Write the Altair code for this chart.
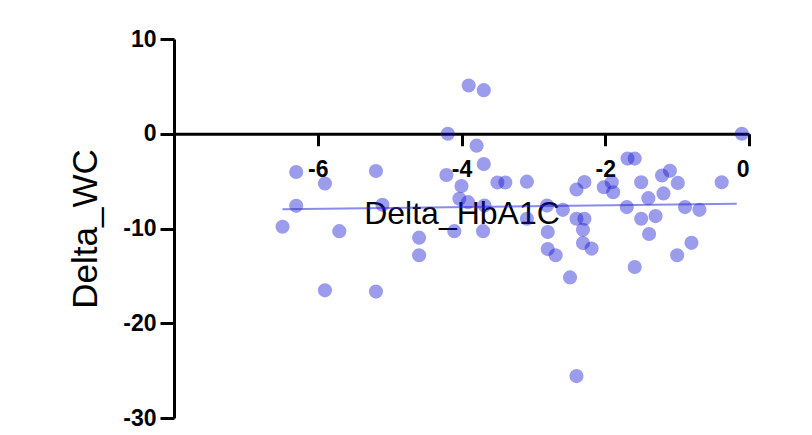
import altair as alt
import pandas as pd

delta_hba1c = [-6.49, -6.30, -6.30, -5.90, -5.70, -5.90, -5.19, -5.10, -5.19, -4.59,
               -4.59, -4.19, -4.21, -3.90, -3.69, -3.79, -3.69, -4.00, -4.03, -3.91,
               -4.10, -3.70, -3.50, -3.39, -3.09, -3.09, -2.81, -2.59, -2.80, -2.80,
               -2.69, -2.49, -2.40, -2.29, -2.40, -2.29, -2.31, -2.31, -2.19, -2.02,
               -1.91, -1.89, -1.69, -1.59, -1.50, -1.40, -1.70, -1.50, -1.30, -1.39,
               -1.59, -1.19, -1.21, -1.10, -0.99, -0.89, -0.69, -0.80, -1.00, -0.38,
               -0.10, -2.40, -3.68]
delta_wc = [-9.81, -4.04, -7.61, -5.25, -10.28, -16.53, -3.93, -7.50, -16.66, -10.97,
            -12.82, 0.0, -4.35, 5.09, 4.60, -1.26, -3.20, -5.51, -6.87, -7.22,
            -10.28, -10.28, -5.14, -5.14, -5.06, -8.97, -7.58, -8.03, -10.37, -12.17,
            -12.82, -15.16, -5.88, -5.09, -8.97, -8.97, -10.13, -11.54, -12.12, -5.65,
            -5.12, -6.17, -2.62, -2.62, -5.12, -6.80, -7.74, -8.97, -8.69, -10.58,
            -14.06, -6.30, -4.41, -3.90, -5.19, -7.74, -8.03, -11.51, -12.82, -5.12,
            0.0, -25.58, -7.58]

fit_x = [-6.49, -0.17]
fit_y = [-7.98, -7.38]

x_ticks = [-6, -4, -2, 0]
y_ticks = [10, 0, -10, -20, -30]

pts = pd.DataFrame({"Delta_HbA1C": delta_hba1c, "Delta_WC": delta_wc})
fit = pd.DataFrame({"Delta_HbA1C": fit_x, "Delta_WC": fit_y})

W, H = 575, 379
y_zero_px = H * (10 - 0) / 40.0

xscale = alt.Scale(domain=[-8, 0], nice=False, zero=False)
yscale = alt.Scale(domain=[-30, 10], nice=False, zero=False)

xaxis = alt.Axis(
    orient="bottom", offset=-(H - y_zero_px), values=x_ticks, grid=False,
    labelExpr="toString(datum.value)",
    domainColor="black", domainWidth=3, tickColor="black", tickWidth=3, tickSize=12,
    labelFont="Liberation Sans", labelFontWeight="bold", labelFontSize=23, labelColor="black",
    labelPadding=13, title="Delta_HbA1C", titleFont="Liberation Sans", titleFontSize=32,
    titleFontWeight="normal", titleColor="black", titlePadding=17,
)
yaxis = alt.Axis(
    orient="left", values=y_ticks, grid=False,
    labelExpr="toString(datum.value)",
    domainColor="black", domainWidth=3, tickColor="black", tickWidth=3, tickSize=14,
    labelFont="Liberation Sans", labelFontWeight="bold", labelFontSize=23, labelColor="black",
    labelPadding=4, title="Delta_WC", titleFont="Liberation Sans", titleFontSize=35,
    titleFontWeight="normal", titleColor="black", titlePadding=19,
)

points = alt.Chart(pts).mark_circle(size=200, color="#1212d2", opacity=0.42).encode(
    x=alt.X("Delta_HbA1C:Q", scale=xscale, axis=xaxis),
    y=alt.Y("Delta_WC:Q", scale=yscale, axis=yaxis),
)
line = alt.Chart(fit).mark_line(color="#2a2ad8", opacity=0.55, strokeWidth=2).encode(
    x=alt.X("Delta_HbA1C:Q", scale=xscale),
    y=alt.Y("Delta_WC:Q", scale=yscale),
)

chart = alt.layer(points, line).properties(
    width=W, height=H,
    autosize=alt.AutoSizeParams(type="none"),
    padding={"left": 166, "top": 31, "right": 50, "bottom": 9},
    background="white",
).configure_view(stroke=None)

chart.save("out.html", embed_options={"renderer": "svg", "actions": False})
